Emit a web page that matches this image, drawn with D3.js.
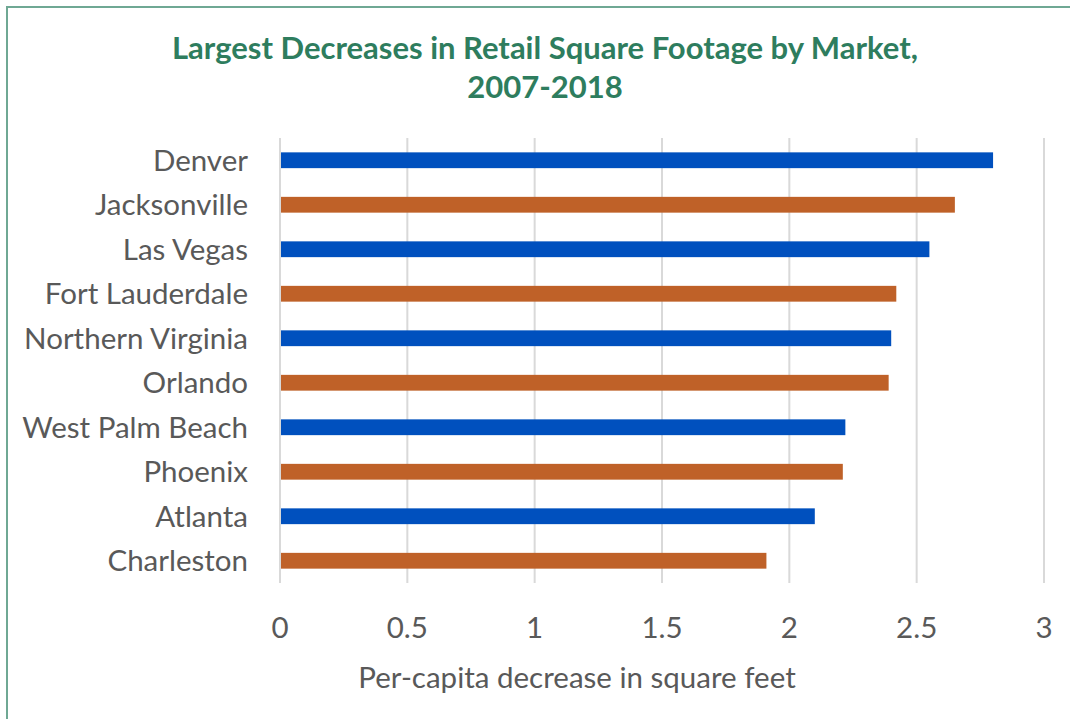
<!DOCTYPE html>
<html>
<head>
<meta charset="utf-8">
<script src="https://cdn.jsdelivr.net/npm/d3@7"></script>
<style>
  body { margin: 0; background: #fff; }
  text { font-family: Lato, 'Open Sans', sans-serif; }
</style>
</head>
<body>
<div id="chart"></div>
<script>
// Markets, top to bottom
const markets = ['Denver', 'Jacksonville', 'Las Vegas', 'Fort Lauderdale', 'Northern Virginia',
  'Orlando', 'West Palm Beach', 'Phoenix', 'Atlanta', 'Charleston']
// Per-capita decrease (sq ft)
const decrease = [2.80, 2.65, 2.55, 2.42, 2.40, 2.39, 2.22, 2.21, 2.10, 1.91]
const xTicks = [0, 0.5, 1, 1.5, 2, 2.5, 3]
const titleLines = ['Largest Decreases in Retail Square Footage by Market,', '2007-2018']
const axisTitle = 'Per-capita decrease in square feet'

const width = 1070
const height = 719
const margin = { top: 138, right: 26, bottom: 136, left: 280 }

const svg = d3.select('#chart').append('svg')
  .attr('width', width)
  .attr('height', height)

// frame (only top and left edges are visible)
svg.append('path')
  .attr('d', 'M7,' + height + ' V7 H' + width)
  .attr('fill', 'none')
  .attr('stroke', '#6fa894')
  .attr('stroke-width', 2)

svg.append('g')
  .selectAll('text')
  .data(titleLines)
  .enter().append('text')
  .attr('x', 545)
  .attr('y', (d, i) => 59 + i * 39)
  .attr('text-anchor', 'middle')
  .attr('fill', '#2e7d5e')
  .style('font-size', '31px')
  .style('font-weight', 'bold')
  .text(d => d)

const x = d3.scaleLinear()
  .domain([0, 3])
  .range([margin.left, width - margin.right])

const y = d3.scaleBand()
  .domain(markets)
  .range([margin.top, height - margin.bottom])
  .paddingInner(0.645)
  .paddingOuter(0.3225)

// gridlines
svg.append('g')
  .selectAll('line')
  .data(xTicks)
  .enter().append('line')
  .attr('x1', d => x(d))
  .attr('x2', d => x(d))
  .attr('y1', margin.top)
  .attr('y2', height - margin.bottom)
  .attr('stroke', '#d9d9d9')
  .attr('stroke-width', 2)

// bars
svg.append('g')
  .selectAll('rect')
  .data(markets)
  .enter().append('rect')
  .attr('x', x(0) + 1)
  .attr('y', d => y(d))
  .attr('width', (d, i) => x(decrease[i]) - x(0) - 1)
  .attr('height', y.bandwidth())
  .attr('fill', (d, i) => i % 2 === 0 ? '#0050be' : '#bf6128')

// category labels
svg.append('g')
  .selectAll('text')
  .data(markets)
  .enter().append('text')
  .attr('x', 248)
  .attr('y', d => y(d) + y.bandwidth() / 2)
  .attr('dy', '0.35em')
  .attr('text-anchor', 'end')
  .attr('fill', '#595959')
  .style('font-size', '29.5px')
  .text(d => d)

// tick labels
svg.append('g')
  .selectAll('text')
  .data(xTicks)
  .enter().append('text')
  .attr('x', d => x(d))
  .attr('y', 638)
  .attr('text-anchor', 'middle')
  .attr('fill', '#595959')
  .style('font-size', '29.5px')
  .text(d => d)

svg.append('text')
  .attr('x', 577)
  .attr('y', 688)
  .attr('text-anchor', 'middle')
  .attr('fill', '#595959')
  .style('font-size', '29.5px')
  .text(axisTitle)
</script>
</body>
</html>
